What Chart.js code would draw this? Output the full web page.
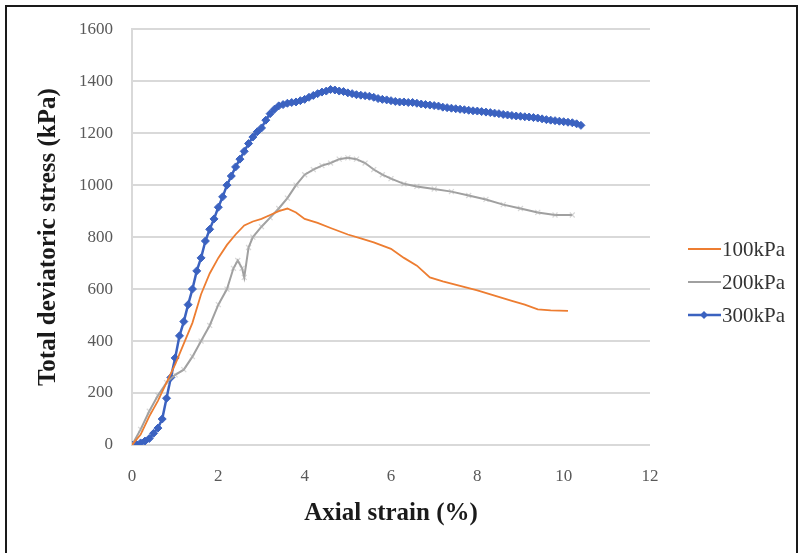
<!DOCTYPE html>
<html>
<head>
<meta charset="utf-8">
<script src="https://cdn.jsdelivr.net/npm/chart.js@4.4.1/dist/chart.umd.min.js"></script>
<style>
  html, body { margin: 0; padding: 0; background: #fff; }
  .chart__wrapper { position: relative; width: 801px; height: 553px; overflow: hidden; }
  .chart__frame {
    position: absolute; left: 5px; top: 5px; width: 789px; height: 600px;
    border: 2px solid #1a1a1a; border-bottom: none; pointer-events: none;
  }
</style>
</head>
<body>
<div class="chart__wrapper">
  <canvas id="stress-strain-chart" width="801" height="553"></canvas>
  <div class="chart__frame"></div>
</div>
<script>
  // values
  const strain100 = [0, 0.2, 0.4, 0.6, 0.8, 1.0, 1.2, 1.4, 1.6, 1.8, 2.0, 2.2, 2.4, 2.6, 2.8, 3.0, 3.2, 3.4, 3.6, 3.8, 4.0, 4.3, 4.6, 5.0, 5.3, 5.6, 6.0, 6.3, 6.6, 6.9, 7.2, 7.6, 8.0, 8.4, 8.8, 9.1, 9.4, 9.7, 10.1];
  const stress100 = [0, 40, 110, 170, 240, 310, 390, 470, 580, 660, 720, 770, 810, 845, 860, 870, 885, 900, 910, 895, 870, 855, 835, 810, 795, 780, 755, 720, 690, 645, 630, 612, 595, 575, 555, 540, 522, 518, 516];

  const strain200 = [0, 0.2, 0.4, 0.6, 0.8, 1.0, 1.2, 1.4, 1.6, 1.8, 2.0, 2.2, 2.35, 2.45, 2.55, 2.6, 2.7, 2.8, 3.0, 3.2, 3.4, 3.6, 3.8, 4.0, 4.2, 4.4, 4.6, 4.8, 5.0, 5.2, 5.4, 5.6, 5.8, 6.0, 6.3, 6.6, 7.0, 7.4, 7.8, 8.2, 8.6, 9.0, 9.4, 9.8, 10.2];
  const stress200 = [0, 60, 130, 190, 240, 270, 290, 340, 400, 460, 540, 600, 680, 710, 680, 645, 760, 800, 840, 875, 910, 950, 1000, 1040, 1060, 1075, 1085, 1100, 1105, 1100, 1085, 1060, 1040, 1025, 1005, 995, 985, 975, 960, 945, 925, 910, 895, 885, 885];

  const strain300 = [
    0.0, 0.1, 0.2, 0.3, 0.4, 0.5, 0.6, 0.7, 0.8, 0.9,
    1.0, 1.1, 1.2, 1.3, 1.4, 1.5, 1.6, 1.7, 1.8, 1.9,
    2.0, 2.1, 2.2, 2.3, 2.4, 2.5, 2.6, 2.7, 2.8, 2.9,
    3.0, 3.1, 3.2, 3.3, 3.4, 3.5, 3.6, 3.7, 3.8, 3.9,
    4.0, 4.1, 4.2, 4.3, 4.4, 4.5, 4.6, 4.7, 4.8, 4.9,
    5.0, 5.1, 5.2, 5.3, 5.4, 5.5, 5.6, 5.7, 5.8, 5.9,
    6.0, 6.1, 6.2, 6.3, 6.4, 6.5, 6.6, 6.7, 6.8, 6.9,
    7.0, 7.1, 7.2, 7.3, 7.4, 7.5, 7.6, 7.7, 7.8, 7.9,
    8.0, 8.1, 8.2, 8.3, 8.4, 8.5, 8.6, 8.7, 8.8, 8.9,
    9.0, 9.1, 9.2, 9.3, 9.4, 9.5, 9.6, 9.7, 9.8, 9.9,
    10.0, 10.1, 10.2, 10.3, 10.4
  ];
  const stress300 = [
    0, 3, 8, 15, 25, 45, 65, 100, 180, 260,
    335, 420, 475, 540, 600, 670, 720, 785, 830, 870,
    915, 955, 1000, 1035, 1070, 1100, 1130, 1160, 1185, 1205,
    1220, 1250, 1275, 1292, 1305, 1310, 1315, 1318, 1320, 1325,
    1330, 1338, 1345, 1352, 1358, 1362, 1368, 1366, 1362, 1360,
    1355, 1352, 1348, 1346, 1344, 1342, 1338, 1333, 1330, 1328,
    1325, 1322, 1320, 1320, 1318, 1318, 1315, 1312, 1310, 1308,
    1306, 1304, 1300, 1298, 1296, 1294, 1292, 1290, 1288, 1286,
    1285, 1283, 1281, 1279, 1277, 1275, 1272, 1270, 1268, 1266,
    1265, 1263, 1262, 1260, 1258, 1255, 1252, 1250, 1248, 1246,
    1244, 1242, 1240, 1236, 1230
  ];

  const seriesLabels = ["100kPa", "200kPa", "300kPa"];
  const xTicks = [0, 2, 4, 6, 8, 10, 12];
  const yTicks = [0, 200, 400, 600, 800, 1000, 1200, 1400, 1600];

  const colors = {
    orange: "#ed7d31",
    grey: "#a0a0a0",
    greyFuzz: "rgba(175, 175, 175, 0.5)",
    blue: "#3b62c0",
    grid: "#d9d9d9",
    text: "#595959",
    title: "#1a1a1a",
  };

  const serif = "'Liberation Serif', 'Times New Roman', serif";
  const toPoints = (xs, ys) => xs.map((x, i) => ({ x: x, y: ys[i] }));

  // legend drawn by hand, to the right of the plot
  const sideLegend = {
    id: "sideLegend",
    afterDraw(chart) {
      const ctx = chart.ctx;
      const rows = [249, 282, 315];
      ctx.save();
      chart.data.datasets.forEach((ds, i) => {
        const y = rows[i];
        ctx.strokeStyle = ds.borderColor;
        ctx.lineWidth = ds.borderWidth;
        ctx.beginPath();
        ctx.moveTo(688, y);
        ctx.lineTo(721, y);
        ctx.stroke();
        if (i === 2) {
          ctx.fillStyle = ds.borderColor;
          ctx.beginPath();
          ctx.moveTo(704, y - 4);
          ctx.lineTo(708, y);
          ctx.lineTo(704, y + 4);
          ctx.lineTo(700, y);
          ctx.closePath();
          ctx.fill();
        }
        ctx.fillStyle = "#333";
        ctx.font = "21px " + serif;
        ctx.textBaseline = "middle";
        ctx.fillText(ds.label, 722, y + 1);
      });
      ctx.restore();
    },
  };

  const chart = new Chart(document.getElementById("stress-strain-chart").getContext("2d"), {
    type: "line",
    data: {
      datasets: [
        {
          label: seriesLabels[0],
          data: toPoints(strain100, stress100),
          borderColor: colors.orange,
          borderWidth: 1.8,
          pointRadius: 0,
          tension: 0,
        },
        {
          label: seriesLabels[1],
          data: toPoints(strain200, stress200),
          borderColor: colors.grey,
          borderWidth: 2,
          pointStyle: "crossRot",
          pointRadius: 3.5,
          pointBorderWidth: 1.2,
          pointBorderColor: colors.greyFuzz,
          pointBackgroundColor: colors.greyFuzz,
          tension: 0,
        },
        {
          label: seriesLabels[2],
          data: toPoints(strain300, stress300),
          borderColor: colors.blue,
          borderWidth: 2.5,
          pointStyle: "rectRot",
          pointRadius: 4,
          pointBorderWidth: 1,
          pointBorderColor: colors.blue,
          pointBackgroundColor: colors.blue,
          tension: 0,
        },
      ],
    },
    options: {
      responsive: false,
      animation: false,
      devicePixelRatio: 1,
      layout: { padding: { top: 27, right: 151, bottom: 0, left: 0 } },
      scales: {
        x: {
          type: "linear",
          min: 0,
          max: 12,
          afterBuildTicks: (axis) => {
            axis.ticks = xTicks.map((v) => ({ value: v }));
          },
          afterFit: (axis) => {
            axis.height = 108;
          },
          grid: { display: false, drawTicks: false },
          border: { display: false },
          ticks: {
            padding: 21,
            color: colors.text,
            callback: (v) => String(v),
            font: { family: serif, size: 17 },
          },
          title: {
            display: true,
            text: "Axial strain (%)",
            color: colors.title,
            padding: { top: 0, bottom: 24 },
            font: { family: serif, size: 25, weight: "bold" },
          },
        },
        y: {
          min: 0,
          max: 1600,
          afterBuildTicks: (axis) => {
            axis.ticks = yTicks.map((v) => ({ value: v }));
          },
          afterFit: (axis) => {
            axis.width = 132;
          },
          grid: { color: colors.grid, lineWidth: 2, drawTicks: false },
          border: { display: true, color: colors.grid, width: 2 },
          ticks: {
            padding: 19,
            color: colors.text,
            callback: (v) => String(v),
            font: { family: serif, size: 17 },
          },
          title: {
            display: true,
            text: "Total deviatoric stress (kPa)",
            color: colors.title,
            padding: { top: 34, bottom: 0 },
            font: { family: serif, size: 25, weight: "bold" },
          },
        },
      },
      plugins: {
        legend: { display: false },
        title: { display: false },
        tooltip: { enabled: false },
      },
    },
    plugins: [sideLegend],
  });
</script>
</body>
</html>
